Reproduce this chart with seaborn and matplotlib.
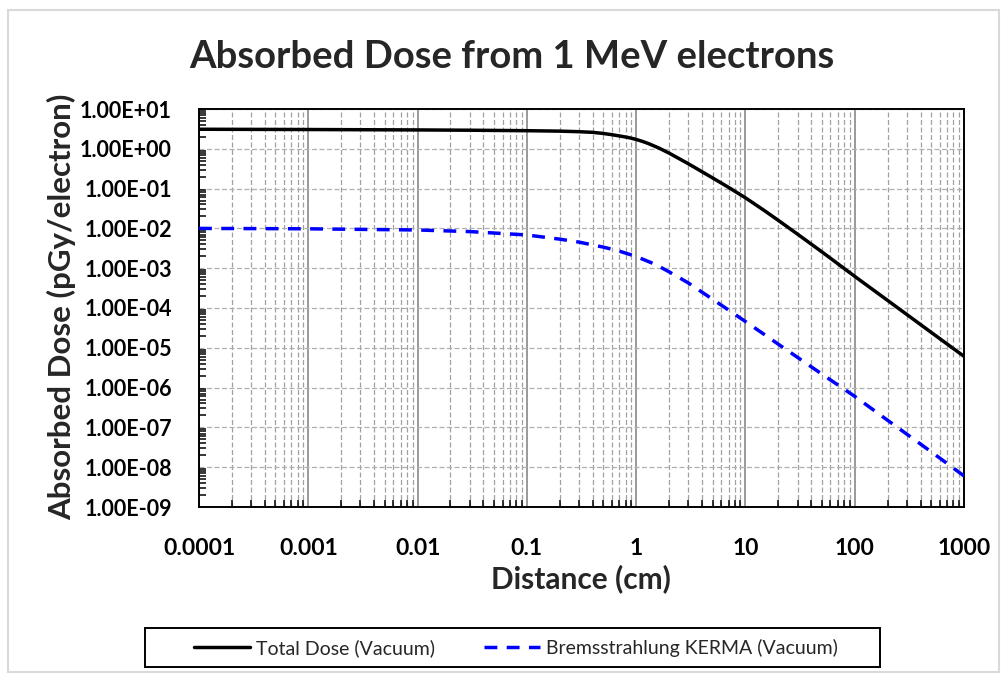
import numpy as np
import pandas as pd
import seaborn as sns
import matplotlib
matplotlib.use("Agg")
import matplotlib.pyplot as plt
from matplotlib.ticker import FuncFormatter, LogLocator, FixedLocator, NullFormatter
from matplotlib.patches import Rectangle
from matplotlib.lines import Line2D

# ---- data ----
total_x = [1e-4, 1e-3, 1e-2, 0.03, 0.1, 0.2, 0.3, 0.4, 0.5, 0.6, 0.7, 0.85, 1, 1.15,
           1.3, 1.6, 2, 3, 5, 7, 10, 15, 20, 30, 50, 100, 200, 500, 1000]
total_dose = [3.10, 3.05, 2.98, 2.93, 2.85, 2.78, 2.69, 2.59, 2.43, 2.26, 2.11, 1.919,
              1.718, 1.524, 1.349, 1.057, 0.780, 0.422, 0.186, 0.1076, 0.0587, 0.0277,
              0.0159, 0.00716, 0.00258, 6.24e-4, 1.55e-4, 2.45e-5, 6.1e-6]
brems_x = [1e-4, 1e-3, 1e-2, 0.03, 0.1, 0.2, 0.3, 0.5, 0.7, 1, 1.5, 2, 3, 5, 7, 10,
           15, 20, 30, 50, 100, 200, 500, 1000]
brems_kerma = [0.0100, 0.00977, 0.00912, 0.00832, 0.00684, 0.00537, 0.00452, 0.00339,
               0.00269, 0.00197, 0.001245, 8.13e-4, 4.27e-4, 1.66e-4, 8.91e-5, 4.57e-5,
               2.13e-5, 1.23e-5, 5.74e-6, 2.19e-6, 6.03e-7, 1.51e-7, 2.45e-8, 6.03e-9]
series_names = ["Total Dose (Vacuum)", "Bremsstrahlung KERMA (Vacuum)"]
x_ticks = [1e-4, 1e-3, 1e-2, 0.1, 1, 10, 100, 1000]
x_tick_labels = ["0.0001", "0.001", "0.01", "0.1", "1", "10", "100", "1000"]
y_ticks = [10.0 ** e for e in range(-9, 2)]

df = pd.DataFrame({
    "Distance": total_x + brems_x,
    "Dose": total_dose + brems_kerma,
    "Series": [series_names[0]] * len(total_x) + [series_names[1]] * len(brems_x),
})

sns.set_theme(style="white")
plt.rcParams["font.family"] = ["Lato", "DejaVu Sans"]

fig = plt.figure(figsize=(10.04, 6.77), dpi=100)
ax = fig.add_axes([199 / 1004, 1 - 507 / 677, (964 - 199) / 1004, (507 - 109) / 677])

blue_dash = (3.7, 2.7)
colors = {series_names[0]: "#000000", series_names[1]: "#0000FF"}
sns.lineplot(data=df, x="Distance", y="Dose", hue="Series", style="Series",
             palette=colors, dashes={series_names[0]: "", series_names[1]: blue_dash},
             linewidth=2.5, ax=ax, legend=False, zorder=5, sort=True, estimator=None)
for ln in ax.get_lines():
    ln.set_solid_capstyle("butt")
    ln.set_dash_capstyle("butt")

ax.set_xscale("log")
ax.set_yscale("log")
ax.set_xlim(1e-4, 1000)
ax.set_ylim(1e-9, 10)

ax.xaxis.set_major_locator(FixedLocator(x_ticks))
ax.set_xticklabels(x_tick_labels)
ax.xaxis.set_minor_locator(LogLocator(base=10, subs=np.arange(2, 10), numticks=20))
ax.xaxis.set_minor_formatter(NullFormatter())
ax.yaxis.set_major_locator(FixedLocator(y_ticks))
ax.yaxis.set_major_formatter(FuncFormatter(lambda v, p: f"{v:.2E}"))
ax.yaxis.set_minor_locator(LogLocator(base=10, subs=np.arange(2, 10), numticks=20))
ax.yaxis.set_minor_formatter(NullFormatter())

ax.grid(True, which="major", axis="x", color="#7f7f7f", linestyle="-", linewidth=1.1)
ax.grid(True, which="minor", axis="x", color="#a0a0a0", linestyle=(0, (4, 2)), linewidth=0.9)
ax.grid(True, which="major", axis="y", color="#b0b0b0", linestyle=(0, (4, 2)), linewidth=0.9)

for s in ax.spines.values():
    s.set_color("black")
    s.set_linewidth(1.4)

ax.tick_params(axis="both", which="major", direction="inout", length=8, width=1.3,
               color="black", labelcolor="black")
ax.tick_params(axis="x", which="major", pad=18, labelsize=16.5)
ax.tick_params(axis="y", which="major", pad=15.5, labelsize=15.5)
ax.tick_params(axis="both", which="minor", direction="in", length=5, width=1.1, color="black")
ax.tick_params(axis="y", which="minor", left=True)
ax.tick_params(axis="x", which="minor", bottom=True)
for lbl in ax.get_xticklabels() + ax.get_yticklabels():
    lbl.set_fontweight("bold")

ax.set_xlabel("Distance (cm)", fontsize=21.5, fontweight="bold")
ax.set_ylabel("Absorbed Dose (pGy/electron)", fontsize=22.5, fontweight="bold")
ax.xaxis.label.set_va("center")
ax.yaxis.label.set_va("center")
ax.xaxis.set_label_coords((581 - 199) / 765, (507 - 579) / 398)
ax.yaxis.set_label_coords((62 - 199) / 765, (507 - 307) / 398)

fig.text(512 / 1004, 1 - 57 / 677, "Absorbed Dose from 1 MeV electrons", ha="center",
         va="center", fontsize=27.5, fontweight="bold")

# legend
handles = [Line2D([], [], color="#000000", linewidth=2.5),
           Line2D([], [], color="#0000FF", linewidth=2.5, dashes=blue_dash,
                  dash_capstyle="butt")]
fig.legend(handles, series_names, loc="center", bbox_to_anchor=(516 / 1004, 1 - 648 / 677),
           ncol=2, frameon=False, fontsize=14, handlelength=2.9, handletextpad=0.3,
           columnspacing=2.5)
fig.add_artist(Rectangle((145 / 1004, 1 - 667 / 677), 735 / 1004, 39 / 677,
                         transform=fig.transFigure, fill=False, edgecolor="black", linewidth=1.4))
fig.add_artist(Rectangle((8 / 1004, 1 - 672 / 677), 991 / 1004, 662 / 677,
                         transform=fig.transFigure, fill=False, edgecolor="#d9d9d9", linewidth=1.5))

fig.savefig("out.png", dpi=100, facecolor="white")
